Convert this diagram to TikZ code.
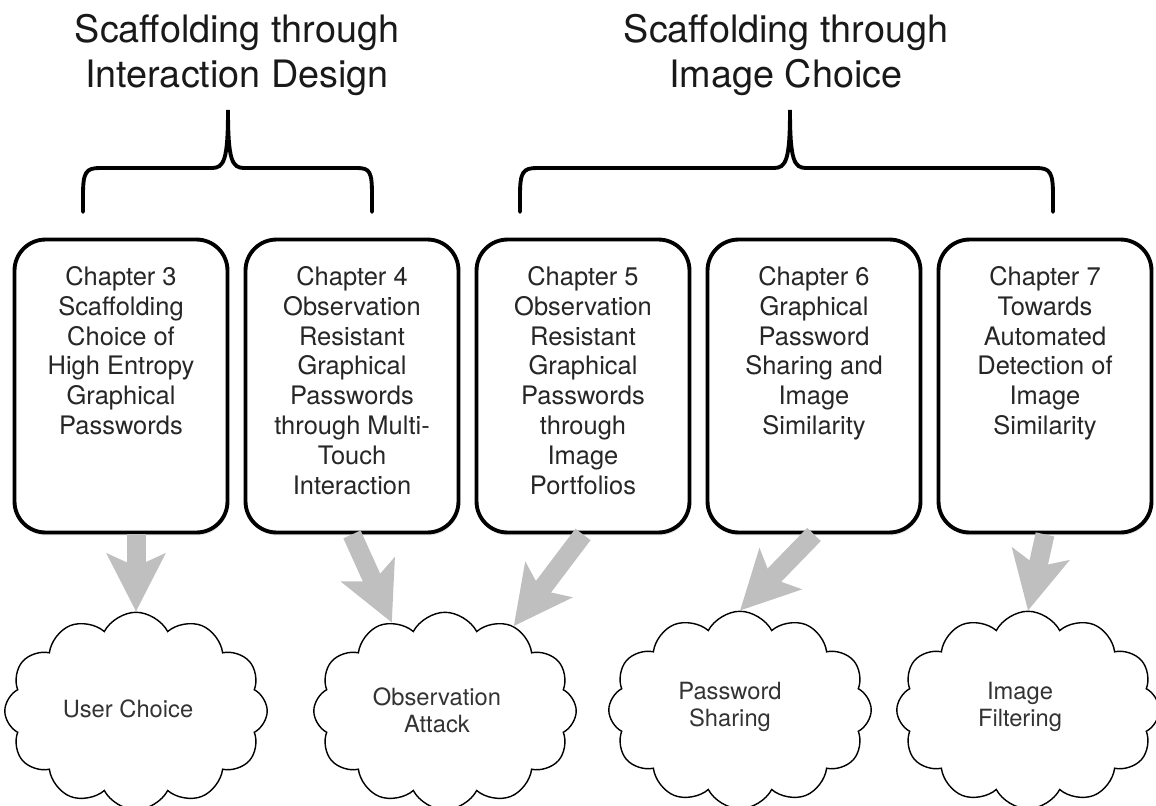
\documentclass[tikz,border=0pt]{standalone}
\usepackage{fontspec}
\setmainfont{TeX Gyre Heros}
\usetikzlibrary{arrows.meta, shapes.symbols, shadows}

\begin{document}
\begin{tikzpicture}[x=0.02cm, y=-0.02cm,
     chap/.style={draw, line width=2.2pt, rounded corners=0.62cm, minimum width=4.26cm, minimum height=5.86cm, fill=white,
        drop shadow={opacity=0.18, shadow xshift=0.02cm, shadow yshift=-0.06cm}},
     chaptext/.style={anchor=north, align=center, inner sep=0pt, text=black!85, font=\fontsize{14.5}{17}\selectfont},
     topic/.style={draw, fill=white, cloud, cloud puffs=12, cloud puff arc=125, aspect=1.35, line width=0.8pt, minimum width=5.25cm, minimum height=3.95cm},
     topictext/.style={align=center, inner sep=0pt, text=black!80, font=\fontsize{13.5}{15.5}\selectfont},
     title/.style={align=center, text=black!90, font=\fontsize{21.5}{25.5}\selectfont},
     brace/.style={line width=2.2pt, line cap=round},
     feed/.style={draw=black!25, line width=0.38cm, -{Stealth[length=1.15cm, width=1.15cm, inset=0.25cm]}}
     ]
\useasboundingbox (0,0) rectangle (1156,805);

%Centre of first box and separation of boxes
\def \xfirst{121}
\def \xsep{231}
\def \ybox{386}

%Titles over the braces
\node[title] (design) at (237,55) {Scaffolding through\\Interaction Design};
\node[title] (choice) at (786,55) {Scaffolding through\\Image Choice};

%Braces
\draw[brace] (83,212) -- (83,195) .. controls (83,172) and (86,168) .. (100,168) -- (212,168)
   .. controls (224,168) and (228,160) .. (228,110)
   .. controls (228,160) and (232,168) .. (244,168) -- (357,168)
   .. controls (370,168) and (372,172) .. (372,195) -- (372,212);
\draw[brace] (520,212) -- (520,195) .. controls (520,172) and (523,168) .. (537,168) -- (774,168)
   .. controls (786,168) and (790,160) .. (790,110)
   .. controls (790,160) and (794,168) .. (806,168) -- (1036,168)
   .. controls (1050,168) and (1053,172) .. (1053,195) -- (1053,212);

%Chapter boxes
\foreach [count=\i] \txt in {{Scaffolding\\Choice of\\High Entropy\\Graphical\\Passwords},
   {Observation\\Resistant\\Graphical\\Passwords\\through Multi-\\Touch\\Interaction},
   {Observation\\Resistant\\Graphical\\Passwords\\through\\Image\\Portfolios},
   {Graphical\\Password\\Sharing and\\Image\\Similarity},
   {Towards\\Automated\\Detection of\\Image\\Similarity}}
   {
\pgfmathsetmacro{\cx}{\xfirst+(\i-1)*\xsep}
\pgfmathsetmacro{\n}{int(\i+2)}
\node[chap] (c\i) at (\cx,\ybox) {};
\node[chaptext] (t\i) at (\cx,266) {Chapter \n\\\txt};
   }

%Clouds
\node[topic] (uc) at (136,711) {};
\node[topictext] (uct) at (128,709) {User Choice};
\node[topic] (oa) at (445,711) {};
\node[topictext] (oat) at (437,710) {Observation\\Attack};
\node[topic] (ps) at (740,710) {};
\node[topictext] (pst) at (730,707) {Password\\Sharing};
\node[topic] (if) at (1028,710) {};
\node[topictext] (ift) at (1020,707) {Image\\Filtering};

%Arrows from chapters to topics
\draw[feed] (c1.south -| uc.north) -- (uc.north);
\draw[feed] (c2.south) -- (oa.121);
\draw[feed] (c3.south) -- (oa.51);
\draw[feed] (c4.south) -- (ps.north);
\draw[feed] (c5.south) -- (if.north);
 \end{tikzpicture}
\end{document}
